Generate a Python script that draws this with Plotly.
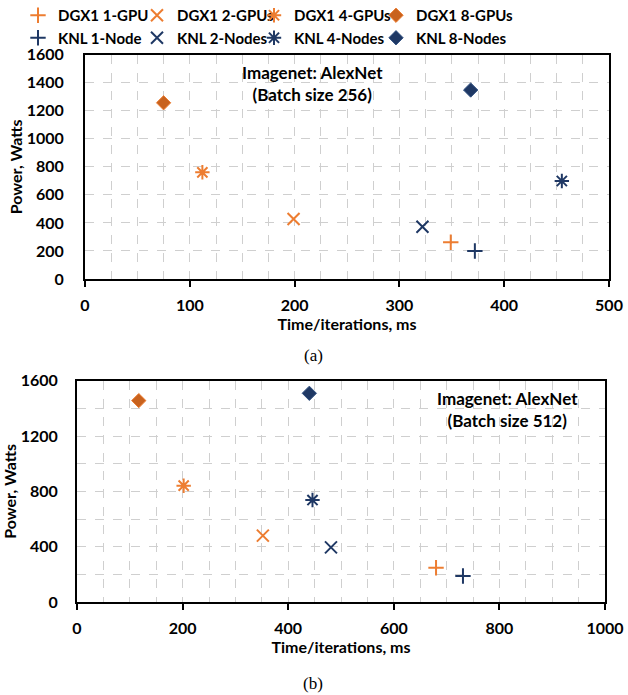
import plotly.graph_objects as go

# ---- data ----
series = ["DGX1 1-GPU", "DGX1 2-GPUs", "DGX1 4-GPUs", "DGX1 8-GPUs",
          "KNL 1-Node", "KNL 2-Nodes", "KNL 4-Nodes", "KNL 8-Nodes"]
# Batch size 256
t256 = [349, 199, 112, 75, 372, 322, 455, 368]
p256 = [262, 428, 761, 1257, 200, 373, 699, 1348]
# Batch size 512
t512 = [680, 352, 202, 117, 731, 481, 446, 440]
p512 = [248, 480, 841, 1456, 188, 395, 737, 1509]

# ---- styles ----
ORANGE = "#ED7D31"
NAVY = "#1F3864"
symbols = ["cross-thin-open", "x-thin-open", "asterisk-open", "diamond",
           "cross-thin-open", "x-thin-open", "asterisk-open", "diamond"]
fills = [ORANGE, ORANGE, ORANGE, "#C8621E", NAVY, NAVY, NAVY, NAVY]
lines = [ORANGE, ORANGE, ORANGE, ORANGE, NAVY, NAVY, NAVY, "#2F4F80"]
sizes = [11, 12, 12, 11, 11, 12, 12, 11]
legends = ["legend", "legend2", "legend3", "legend4"] * 2

fig = go.Figure()
for i, name in enumerate(series):
    is_d = symbols[i] == "diamond"
    mk = dict(symbol=symbols[i], size=sizes[i], color=fills[i],
              line=dict(color=lines[i], width=1 if is_d else 2))
    fig.add_trace(go.Scatter(x=[t256[i]], y=[p256[i]], mode="markers", name=name,
                             marker=mk, xaxis="x", yaxis="y",
                             legend=legends[i], legendgroup=name))
    fig.add_trace(go.Scatter(x=[t512[i]], y=[p512[i]], mode="markers", name=name,
                             marker=mk, xaxis="x2", yaxis="y2", showlegend=False,
                             legendgroup=name))

W, H = 628, 695
FONT = "Lato"
GRIDC = "#CFCFCF"
grid = dict(showgrid=True, gridcolor=GRIDC, griddash="dash", gridwidth=1)
axis_common = dict(showline=True, linecolor="black", linewidth=2, mirror=True,
                   zeroline=False, automargin=False,
                   tickfont=dict(size=16, color="black"), **grid)

fig.update_layout(
    width=W, height=H, margin=dict(l=0, r=0, t=0, b=0, autoexpand=False),
    paper_bgcolor="white", plot_bgcolor="white",
    font=dict(family=FONT, size=15, color="black", weight="bold"),
    xaxis=dict(domain=[85 / W, 609 / W], anchor="y", range=[0, 500], dtick=100,
               ticks="outside", ticklen=6, tickwidth=2, tickcolor="black",
               ticklabelstandoff=5,
               minor=dict(dtick=25, showgrid=True, gridcolor=GRIDC, griddash="dash"),
               title=dict(text="Time/iterations, ms", font=dict(size=16), standoff=1),
               **axis_common),
    yaxis=dict(domain=[1 - 279 / H, 1 - 54.7 / H], anchor="x", range=[0, 1600], dtick=200,
               ticks="", ticklabelstandoff=16,
               title=dict(text="Power, Watts", font=dict(size=16), standoff=0),
               **axis_common),
    xaxis2=dict(domain=[77 / W, 605 / W], anchor="y2", range=[0, 1000], dtick=200,
                ticks="outside", ticklen=6, tickwidth=2, tickcolor="black",
                ticklabelstandoff=5,
                minor=dict(dtick=50, showgrid=True, gridcolor=GRIDC, griddash="dash"),
                title=dict(text="Time/iterations, ms", font=dict(size=16), standoff=1),
                **axis_common),
    yaxis2=dict(domain=[1 - 602 / H, 1 - 380.7 / H], anchor="x2", range=[0, 1600], dtick=400,
                ticks="", ticklabelstandoff=14,
                minor=dict(dtick=200, showgrid=True, gridcolor=GRIDC, griddash="dash"),
                title=dict(text="Power, Watts", font=dict(size=16), standoff=0),
                **axis_common),
    showlegend=True,
)

# legend column positions (px where each legend box starts)
leg_x = [18, 137, 254, 376]
for k, lx in enumerate(leg_x):
    key = "legend" if k == 0 else f"legend{k + 1}"
    fig.update_layout({key: dict(x=lx / W, y=1 + 1 / H, xanchor="left", yanchor="top",
                                 orientation="v", bgcolor="rgba(0,0,0,0)",
                                 font=dict(size=15, family=FONT, weight="bold"),
                                 itemwidth=30, tracegroupgap=0)})

fig.add_annotation(x=217, y=1394, xref="x", yref="y", showarrow=False,
                   text="Imagenet: AlexNet<br>(Batch size 256)",
                   font=dict(size=17, family=FONT, weight="bold"))
fig.add_annotation(x=815, y=1392, xref="x2", yref="y2", showarrow=False,
                   text="Imagenet: AlexNet<br>(Batch size 512)",
                   font=dict(size=17, family=FONT, weight="bold"))
fig.add_annotation(x=313 / W, y=1 - 355 / H, xref="paper", yref="paper", showarrow=False,
                   yanchor="middle",
                   text="(a)", font=dict(size=17, family="Liberation Serif", weight="normal"))
fig.add_annotation(x=313 / W, y=1 - 683 / H, xref="paper", yref="paper", showarrow=False,
                   yanchor="middle",
                   text="(b)", font=dict(size=17, family="Liberation Serif", weight="normal"))

fig.write_html("out.html")
